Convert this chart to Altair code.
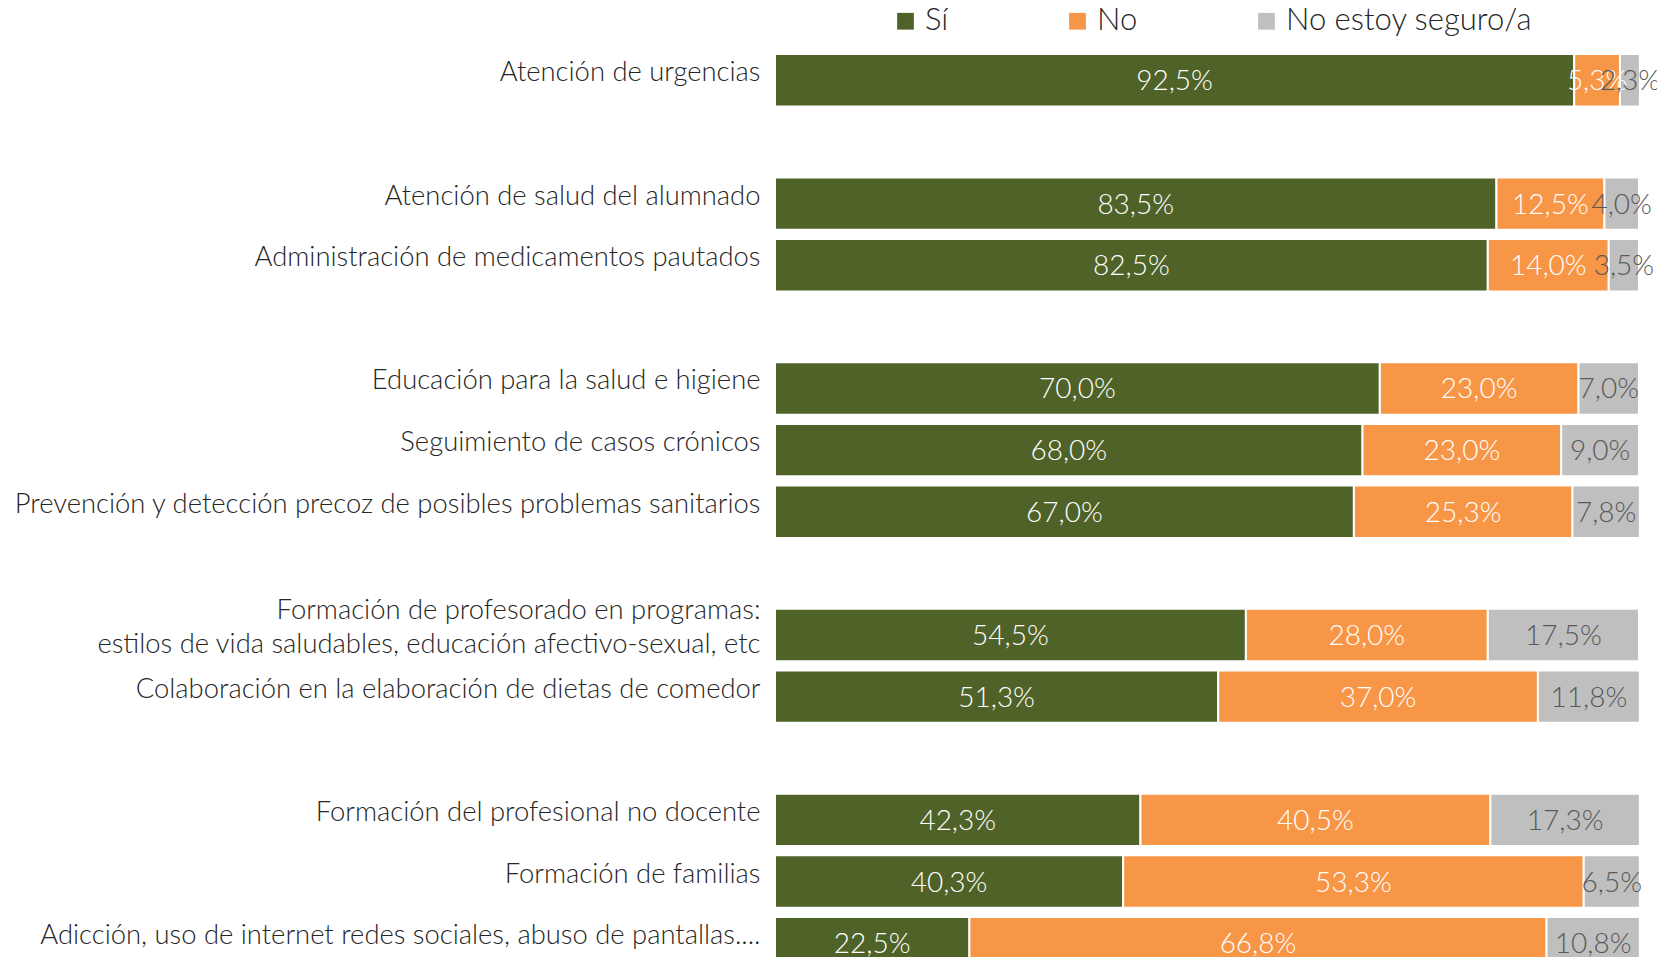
import altair as alt
import pandas as pd

categories = [
    "Atención de urgencias",
    "Atención de salud del alumnado",
    "Administración de medicamentos pautados",
    "Educación para la salud e higiene",
    "Seguimiento de casos crónicos",
    "Prevención y detección precoz de posibles problemas sanitarios",
    "Formación de profesorado en programas:|estilos de vida saludables, educación afectivo-sexual, etc",
    "Colaboración en la elaboración de dietas de comedor",
    "Formación del profesional no docente",
    "Formación de familias",
    "Adicción, uso de internet redes sociales, abuso de pantallas....",
]
si = [92.5, 83.5, 82.5, 70.0, 68.0, 67.0, 54.5, 51.3, 42.3, 40.3, 22.5]
no = [5.3, 12.5, 14.0, 23.0, 23.0, 25.3, 28.0, 37.0, 40.5, 53.3, 66.8]
ns = [2.3, 4.0, 3.5, 7.0, 9.0, 7.8, 17.5, 11.8, 17.3, 6.5, 10.8]
series = ["Sí", "No", "No estoy seguro/a"]
colors = ["#4F6228", "#F79646", "#BFBFBF"]
# row order with empty spacer rows between groups
row_order = [
    categories[0], "gap1",
    categories[1], categories[2], "gap2",
    categories[3], categories[4], categories[5], "gap3",
    categories[6], categories[7], "gap4",
    categories[8], categories[9], categories[10],
]

rows = []
for i, c in enumerate(categories):
    for k, (s, vals) in enumerate(zip(series, [si, no, ns])):
        rows.append({"cat": c, "serie": s, "orden": k, "value": vals[i]})
df = pd.DataFrame(rows)

FONT = "Lato"

base = alt.Chart(df).transform_stack(
    stack="value", groupby=["cat"], sort=[alt.SortField("orden")], as_=["x0", "x1"]
).transform_calculate(
    mid="(datum.x0 + datum.x1) / 2",
    label="replace(format(datum.value, '.1f'), '.', ',') + '%'",
)

yenc = alt.Y(
    "cat:N",
    sort=row_order,
    scale=alt.Scale(domain=row_order, range=[0, 924.5], paddingInner=0.15, paddingOuter=0.075),
    axis=alt.Axis(
        title=None, domain=False, ticks=False, labelPadding=15,
        labelFont=FONT, labelFontSize=27.4, labelFontWeight=300, labelColor="#262626",
        labelLimit=0, labelLineHeight=34,
        labelOffset={"condition": {"test": "indexof(datum.value, '|') >= 0", "value": -24}, "value": -7},
        labelExpr="indexof(datum.label, 'gap') == 0 ? '' : split(datum.label, '|')",
    ),
)

bars = base.mark_bar(stroke="white", strokeWidth=2).encode(
    y=yenc,
    x=alt.X("x0:Q", scale=alt.Scale(domain=[0, 100]), axis=None),
    x2="x1:Q",
    color=alt.Color(
        "serie:N",
        scale=alt.Scale(domain=series, range=colors),
        sort=series,
        legend=alt.Legend(
            title=None, orient="none", direction="horizontal",
            legendX=115, legendY=-44, symbolType="square", symbolSize=280,
            symbolStrokeWidth=0, labelFont=FONT, labelFontSize=31, labelFontWeight=300,
            labelColor="#262626", labelOffset=4, columnPadding=113, labelLimit=0,
        ),
    ),
    order=alt.Order("orden:Q"),
)

texts = base.mark_text(font=FONT, fontSize=28, fontWeight=300, dy=2).encode(
    y=alt.Y("cat:N", sort=row_order),
    x=alt.X("mid:Q"),
    text="label:N",
    color=alt.condition(
        alt.datum.serie == "No estoy seguro/a", alt.value("#595959"), alt.value("white")
    ),
)

chart = (
    alt.layer(bars, texts)
    .properties(
        width=864, height=907.5,
        autosize=alt.AutoSizeParams(type="none"),
        padding={"left": 767, "top": 41.5, "right": 18, "bottom": 0},
    )
    .configure_view(stroke=None)
)

chart.save("out.html", embed_options={"renderer": "svg", "actions": False})
